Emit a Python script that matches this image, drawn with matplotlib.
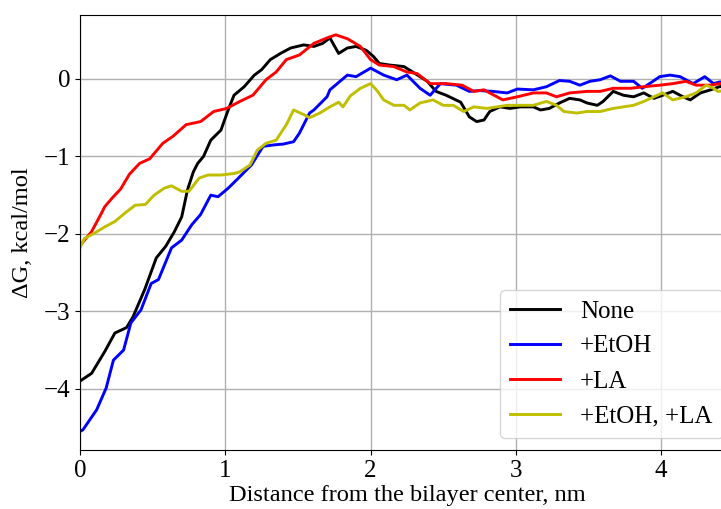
import matplotlib
matplotlib.use("Agg")
import matplotlib.pyplot as plt

# None
x_none = [0.00, 0.08, 0.17, 0.24, 0.32, 0.365, 0.445, 0.525, 0.59, 0.65, 0.70, 0.74, 0.78, 0.81, 0.85, 0.90,
          0.97, 1.02, 1.06, 1.13, 1.20, 1.25, 1.31, 1.38, 1.45, 1.54, 1.61, 1.67, 1.72, 1.78, 1.84, 1.90,
          1.97, 2.02, 2.06, 2.13, 2.23, 2.29, 2.39, 2.45, 2.52, 2.62, 2.68, 2.73, 2.78, 2.82, 2.89, 2.96,
          3.03, 3.12, 3.17, 3.23, 3.30, 3.37, 3.44, 3.49, 3.56, 3.60, 3.67, 3.74, 3.81, 3.88, 3.95, 4.01,
          4.08, 4.15, 4.20, 4.27, 4.34, 4.40, 4.50]
y_none = [-3.90, -3.80, -3.52, -3.28, -3.21, -3.07, -2.72, -2.31, -2.16, -1.97, -1.78, -1.43, -1.20, -1.09, -1.00, -0.79,
          -0.66, -0.40, -0.21, -0.10, 0.05, 0.12, 0.25, 0.33, 0.40, 0.44, 0.42, 0.46, 0.53, 0.33, 0.40, 0.42,
          0.37, 0.29, 0.20, 0.18, 0.16, 0.09, -0.03, -0.16, -0.21, -0.30, -0.49, -0.55, -0.53, -0.42, -0.36, -0.38,
          -0.36, -0.36, -0.40, -0.38, -0.31, -0.25, -0.27, -0.31, -0.34, -0.29, -0.16, -0.21, -0.23, -0.18, -0.25, -0.21,
          -0.16, -0.23, -0.27, -0.18, -0.14, -0.10, -0.08]

# +EtOH
x_etoh = [0.00, 0.02, 0.115, 0.18, 0.23, 0.30, 0.35, 0.42, 0.49, 0.54, 0.63, 0.70, 0.77, 0.83, 0.90, 0.95,
          1.02, 1.09, 1.18, 1.26, 1.34, 1.40, 1.47, 1.51, 1.58, 1.61, 1.70, 1.72, 1.84, 1.90, 2.00, 2.09,
          2.18, 2.25, 2.34, 2.41, 2.48, 2.59, 2.68, 2.75, 2.84, 2.94, 3.01, 3.12, 3.21, 3.30, 3.37, 3.44,
          3.51, 3.58, 3.65, 3.72, 3.81, 3.87, 3.92, 3.99, 4.06, 4.13, 4.22, 4.30, 4.36, 4.40, 4.50]
y_etoh = [-4.55, -4.53, -4.27, -3.99, -3.63, -3.50, -3.15, -2.98, -2.64, -2.59, -2.18, -2.08, -1.88, -1.75, -1.50, -1.52,
          -1.41, -1.28, -1.11, -0.87, -0.85, -0.84, -0.81, -0.70, -0.44, -0.40, -0.23, -0.14, 0.05, 0.03, 0.14, 0.05,
          -0.01, 0.05, -0.12, -0.21, -0.06, -0.08, -0.16, -0.15, -0.16, -0.18, -0.13, -0.14, -0.10, -0.02, -0.03, -0.08,
          -0.03, -0.01, 0.04, -0.03, -0.03, -0.12, -0.06, 0.03, 0.05, 0.03, -0.06, 0.03, -0.06, -0.04, -0.03]

# +LA
x_la = [0.00, 0.08, 0.14, 0.17, 0.22, 0.28, 0.34, 0.41, 0.48, 0.57, 0.64, 0.73, 0.83, 0.92, 1.01, 1.10,
        1.19, 1.28, 1.35, 1.42, 1.51, 1.61, 1.70, 1.76, 1.84, 1.93, 2.00, 2.06, 2.16, 2.25, 2.32, 2.41,
        2.52, 2.63, 2.71, 2.78, 2.87, 2.91, 3.01, 3.12, 3.21, 3.28, 3.37, 3.49, 3.58, 3.67, 3.79, 3.88,
        3.99, 4.08, 4.17, 4.24, 4.34, 4.40, 4.50]
y_la = [-2.15, -1.97, -1.76, -1.65, -1.54, -1.42, -1.23, -1.09, -1.03, -0.83, -0.74, -0.59, -0.55, -0.42, -0.38, -0.29,
        -0.21, -0.01, 0.09, 0.25, 0.31, 0.46, 0.53, 0.57, 0.52, 0.42, 0.25, 0.18, 0.16, 0.09, 0.07, -0.06,
        -0.06, -0.08, -0.16, -0.14, -0.23, -0.27, -0.23, -0.18, -0.18, -0.23, -0.18, -0.16, -0.16, -0.12, -0.12, -0.10,
        -0.08, -0.06, -0.03, -0.08, -0.08, -0.06, -0.05]

# +EtOH, +LA
x_both = [0.00, 0.03, 0.10, 0.17, 0.24, 0.31, 0.38, 0.45, 0.51, 0.58, 0.63, 0.70, 0.75, 0.82, 0.88, 0.97,
          1.06, 1.10, 1.17, 1.22, 1.28, 1.35, 1.42, 1.47, 1.54, 1.58, 1.65, 1.72, 1.78, 1.81, 1.86, 1.93,
          2.00, 2.04, 2.09, 2.16, 2.23, 2.27, 2.34, 2.43, 2.50, 2.57, 2.64, 2.71, 2.80, 2.87, 2.94, 3.03,
          3.12, 3.21, 3.28, 3.33, 3.42, 3.49, 3.58, 3.67, 3.74, 3.81, 3.88, 3.95, 4.01, 4.08, 4.17, 4.24,
          4.31, 4.36, 4.39, 4.50]
y_both = [-2.18, -2.06, -1.99, -1.91, -1.84, -1.73, -1.63, -1.62, -1.50, -1.41, -1.38, -1.45, -1.45, -1.28, -1.24, -1.24,
          -1.22, -1.20, -1.11, -0.92, -0.83, -0.79, -0.59, -0.40, -0.46, -0.50, -0.44, -0.36, -0.30, -0.36, -0.22, -0.12,
          -0.06, -0.14, -0.27, -0.34, -0.34, -0.40, -0.31, -0.27, -0.34, -0.34, -0.42, -0.36, -0.38, -0.36, -0.34, -0.34,
          -0.34, -0.29, -0.34, -0.42, -0.44, -0.42, -0.42, -0.38, -0.36, -0.34, -0.29, -0.23, -0.18, -0.27, -0.23, -0.18,
          -0.08, -0.12, -0.16, -0.14]

labels = ["None", "+EtOH", "+LA", "+EtOH, +LA"]
colors = ["k", "b", "r", "y"]

plt.rcParams['font.family'] = ['Liberation Serif', 'DejaVu Serif']

fig = plt.figure(figsize=(7.21, 5.09), dpi=100)
ax = fig.add_axes([80 / 721, 59 / 509, 655 / 721, 435 / 509])

for xs, ys, lab, c in zip([x_none, x_etoh, x_la, x_both], [y_none, y_etoh, y_la, y_both], labels, colors):
    ax.plot(xs, ys, color=c, lw=2.1, label=lab)

ax.set_xlim(0, 4.508)
ax.set_ylim(-4.79, 0.826)
ax.set_xticks([0, 1, 2, 3, 4])
ax.set_yticks([-4, -3, -2, -1, 0])
ax.set_yticklabels(["\u22124", "\u22123", "\u22122", "\u22121", "0"])
ax.tick_params(labelsize=18)
ax.grid(True, color="#b0b0b0", lw=1)
ax.set_axisbelow(True)
ax.set_xlabel("Distance from the bilayer center, nm", fontsize=17.6, labelpad=2)
ax.set_ylabel("\u0394G, kcal/mol", fontsize=17.6, labelpad=8)
ax.legend(loc="lower right", fontsize=18, bbox_to_anchor=(1.0, 0.0), handlelength=2.0,
          labelspacing=0.5)

fig.savefig("out.png", dpi=100)
